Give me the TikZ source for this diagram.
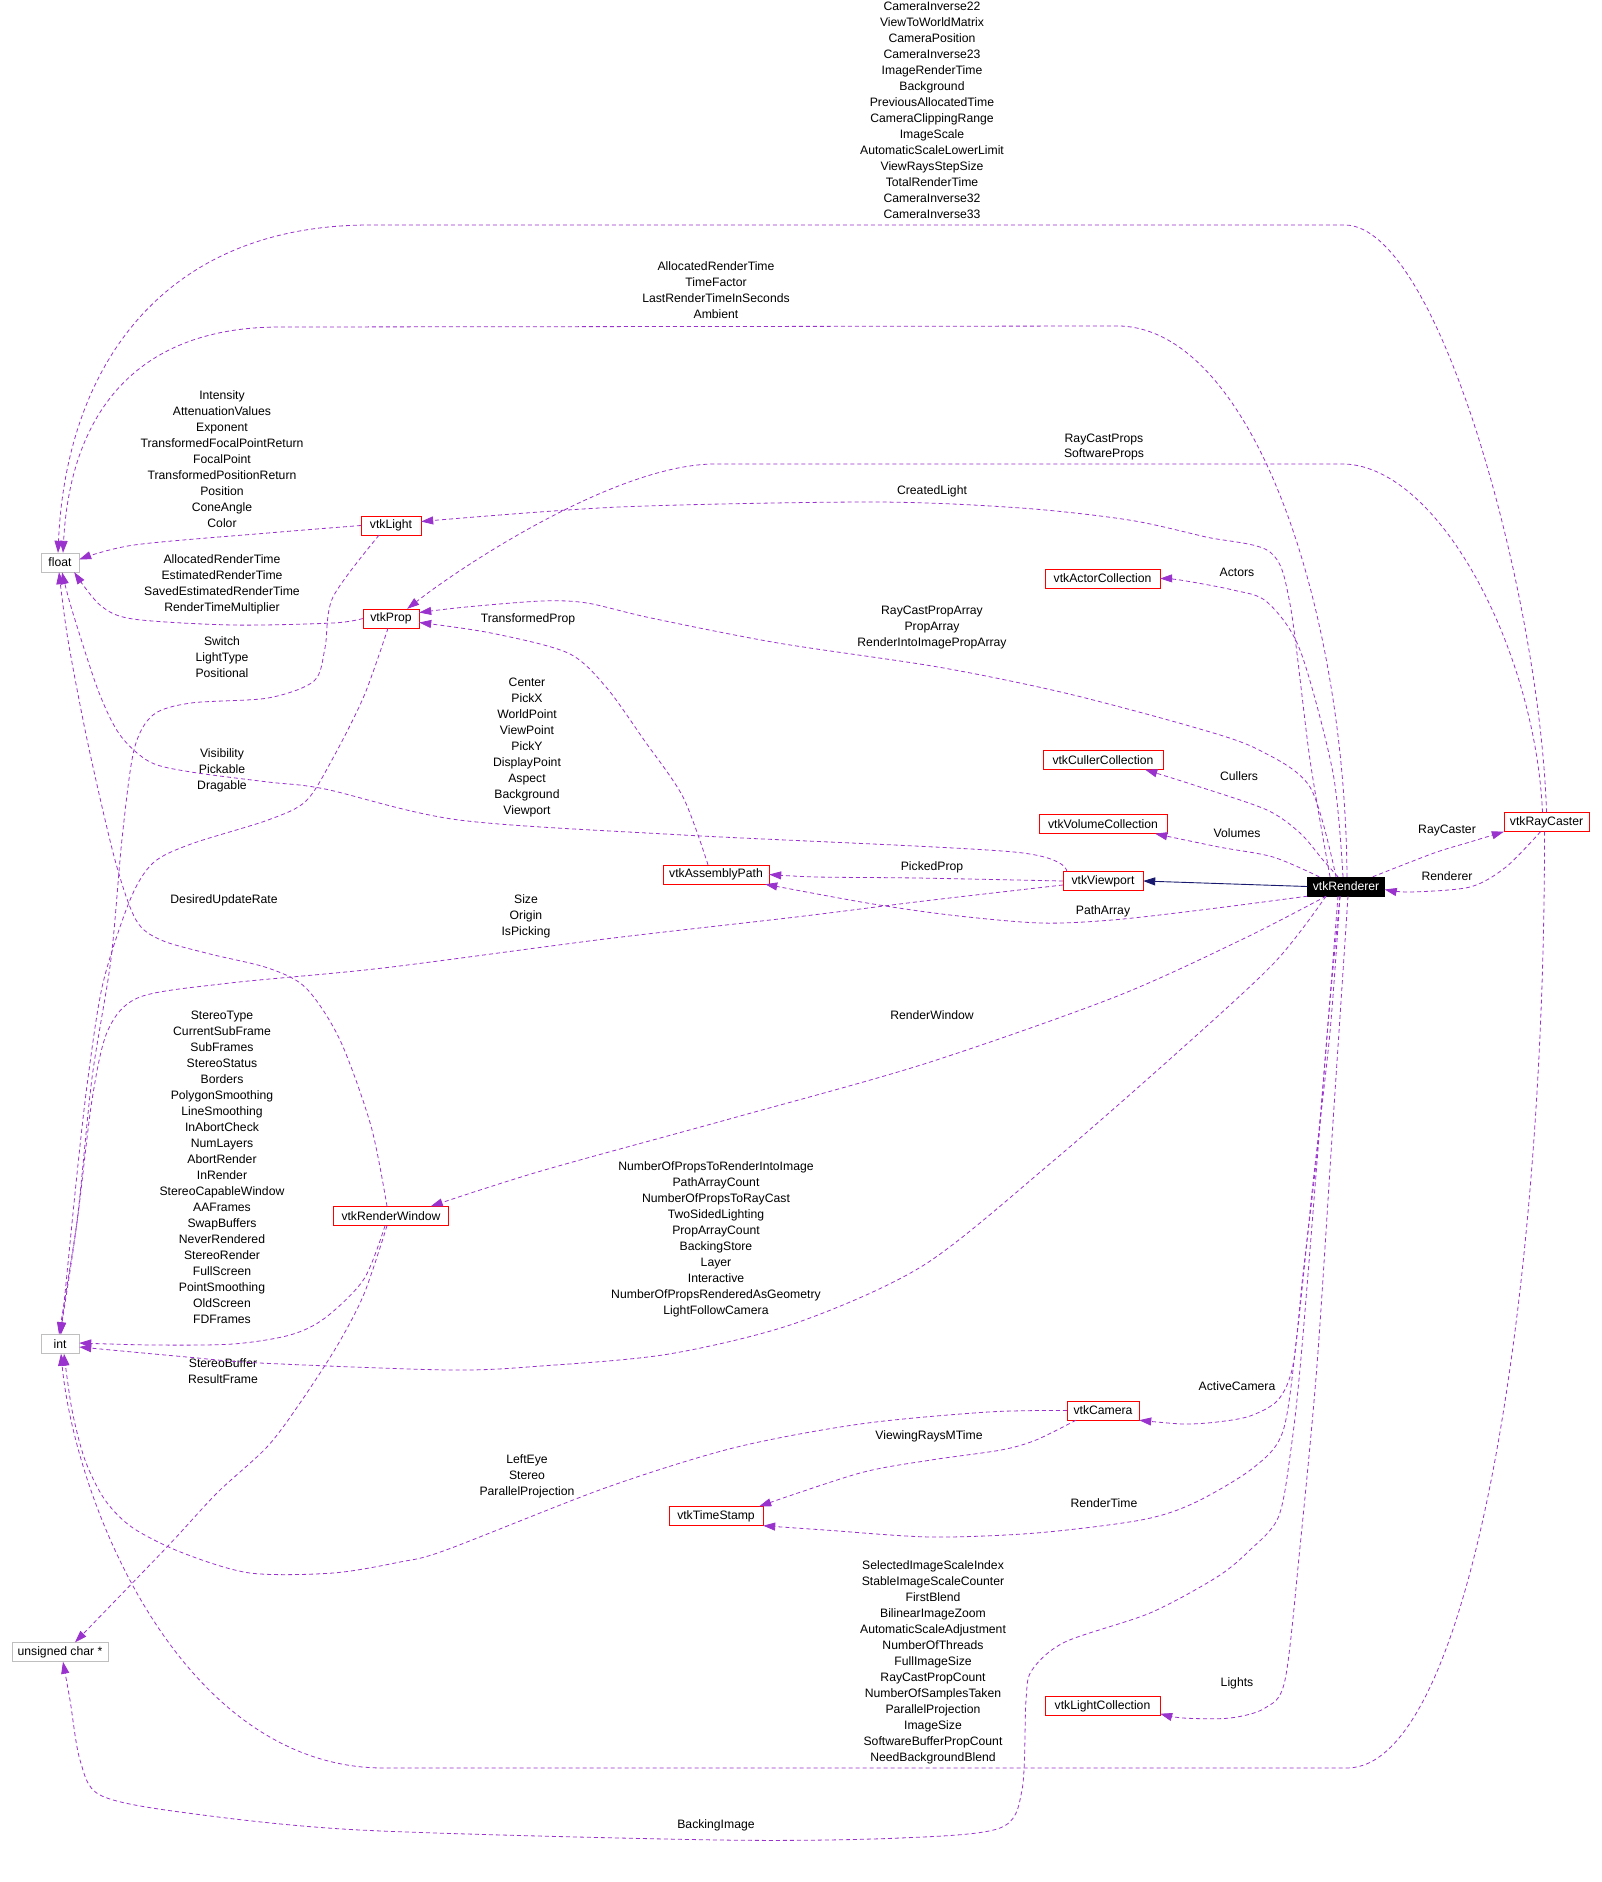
\documentclass[tikz,border=0pt]{standalone}
\usepackage{fontspec}
\setmainfont{Liberation Sans}
\usetikzlibrary{arrows.meta}
\definecolor{EdgePurple}{HTML}{9A32CD}
\definecolor{InheritBlue}{HTML}{191970}
\definecolor{BoxRed}{HTML}{FF0000}
\definecolor{BoxGrey}{HTML}{BFBFBF}

\tikzset{
  cls/.style={draw=BoxRed, fill=white, minimum height=19pt, inner sep=0pt,
    font=\fontsize{12.2}{14}\selectfont},
  builtin/.style={cls, draw=BoxGrey},
  self/.style={cls, draw=black, fill=black, text=white},
  lbl/.style={align=center, inner sep=0pt, font=\fontsize{12.2}{16}\selectfont},
  uses/.style={draw=EdgePurple, dash pattern=on 4pt off 3pt, line width=0.8pt,
    -{Triangle[length=12pt,width=8pt]}},
  inherits/.style={draw=InheritBlue, line width=0.9pt,
    -{Triangle[length=12pt,width=8pt]}},
}

\begin{document}
\begin{tikzpicture}[x=1pt,y=-1pt]
  \path[use as bounding box, fill=white] (0,0) rectangle (1602,1882);

  % classes
  \node[self, minimum width=77pt] (renderer) at (1346,886.5) {vtkRenderer};
  \node[cls, minimum width=80pt] (viewport) at (1103,881) {vtkViewport};
  \node[cls, minimum width=85pt] (raycaster) at (1546.5,822) {vtkRayCaster};
  \node[cls, minimum width=115pt] (actors) at (1102.5,578.5) {vtkActorCollection};
  \node[cls, minimum width=120pt] (cullers) at (1103,760) {vtkCullerCollection};
  \node[cls, minimum width=128pt] (volumes) at (1103,824) {vtkVolumeCollection};
  \node[cls, minimum width=106pt] (assembly) at (716,874.5) {vtkAssemblyPath};
  \node[cls, minimum width=72pt] (camera) at (1103,1410.5) {vtkCamera};
  \node[cls, minimum width=94pt] (timestamp) at (716,1516) {vtkTimeStamp};
  \node[cls, minimum width=115pt] (lightcoll) at (1102.5,1706) {vtkLightCollection};
  \node[cls, minimum width=115pt] (renwin) at (391,1216) {vtkRenderWindow};
  \node[cls, minimum width=60pt] (light) at (391,525.5) {vtkLight};
  \node[cls, minimum width=56pt] (prop) at (391,618.5) {vtkProp};
  \node[builtin, minimum width=38pt] (float) at (60,562.5) {float};
  \node[builtin, minimum width=38pt] (int) at (60,1344) {int};
  \node[builtin, minimum width=96pt] (uchar) at (60,1652) {unsigned char *};

  % member labels
  \node[lbl] (lCamInv) at (932,110.5) {CameraInverse22\\ViewToWorldMatrix\\CameraPosition\\CameraInverse23\\ImageRenderTime\\Background\\PreviousAllocatedTime\\CameraClippingRange\\ImageScale\\AutomaticScaleLowerLimit\\ViewRaysStepSize\\TotalRenderTime\\CameraInverse32\\CameraInverse33};
  \node[lbl] (lAlloc) at (716,290.5) {AllocatedRenderTime\\TimeFactor\\LastRenderTimeInSeconds\\Ambient};
  \node[lbl] (lIntens) at (222,458.7) {Intensity\\AttenuationValues\\Exponent\\TransformedFocalPointReturn\\FocalPoint\\TransformedPositionReturn\\Position\\ConeAngle\\Color};
  \node[lbl] (lPropTime) at (222,584.7) {AllocatedRenderTime\\EstimatedRenderTime\\SavedEstimatedRenderTime\\RenderTimeMultiplier};
  \node[lbl] (lSwitch) at (222,656.7) {Switch\\LightType\\Positional};
  \node[lbl] (lRcProps) at (1104,447) {RayCastProps\\SoftwareProps};
  \node[lbl] (lCreated) at (932,491.7) {CreatedLight};
  \node[lbl] (lActors) at (1237,572.7) {Actors};
  \node[lbl] (lPropArr) at (932,627.7) {RayCastPropArray\\PropArray\\RenderIntoImagePropArray};
  \node[lbl] (lTrans) at (528,619.7) {TransformedProp};
  \node[lbl] (lCenter) at (527,747.4) {Center\\PickX\\WorldPoint\\ViewPoint\\PickY\\DisplayPoint\\Aspect\\Background\\Viewport};
  \node[lbl] (lVis) at (222,770.6) {Visibility\\Pickable\\Dragable};
  \node[lbl] (lCullers) at (1239,775.7) {Cullers};
  \node[lbl] (lVolumes) at (1237,832.7) {Volumes};
  \node[lbl] (lRayCaster) at (1447,830.7) {RayCaster};
  \node[lbl] (lRenderer) at (1447,876) {Renderer};
  \node[lbl] (lPicked) at (932,867.3) {PickedProp};
  \node[lbl] (lPathArr) at (1103,911.7) {PathArray};
  \node[lbl] (lDesired) at (224,900.5) {DesiredUpdateRate};
  \node[lbl] (lSize) at (526,916.5) {Size\\Origin\\IsPicking};
  \node[lbl] (lRenWin) at (932,1015.6) {RenderWindow};
  \node[lbl] (lStereo) at (222,1167.6) {StereoType\\CurrentSubFrame\\SubFrames\\StereoStatus\\Borders\\PolygonSmoothing\\LineSmoothing\\InAbortCheck\\NumLayers\\AbortRender\\InRender\\StereoCapableWindow\\AAFrames\\SwapBuffers\\NeverRendered\\StereoRender\\FullScreen\\PointSmoothing\\OldScreen\\FDFrames};
  \node[lbl] (lNumProps) at (716,1239.8) {NumberOfPropsToRenderIntoImage\\PathArrayCount\\NumberOfPropsToRayCast\\TwoSidedLighting\\PropArrayCount\\BackingStore\\Layer\\Interactive\\NumberOfPropsRenderedAsGeometry\\LightFollowCamera};
  \node[lbl] (lStereoBuf) at (223,1370.7) {StereoBuffer\\ResultFrame};
  \node[lbl] (lActiveCam) at (1237,1386) {ActiveCamera};
  \node[lbl] (lViewRays) at (929,1436.7) {ViewingRaysMTime};
  \node[lbl] (lRenTime) at (1104,1502.7) {RenderTime};
  \node[lbl] (lLeftEye) at (527,1476.8) {LeftEye\\Stereo\\ParallelProjection};
  \node[lbl] (lSelImg) at (933,1662) {SelectedImageScaleIndex\\StableImageScaleCounter\\FirstBlend\\BilinearImageZoom\\AutomaticScaleAdjustment\\NumberOfThreads\\FullImageSize\\RayCastPropCount\\NumberOfSamplesTaken\\ParallelProjection\\ImageSize\\SoftwareBufferPropCount\\NeedBackgroundBlend};
  \node[lbl] (lLights) at (1237,1683) {Lights};
  \node[lbl] (lBacking) at (716,1825) {BackingImage};

  % inheritance
  \draw[inherits] (renderer.west) -- (viewport.east);

  % usage relations
  \draw[uses] (raycaster.north) .. controls (1540,600) and (1440,226) .. (1345,225)
    -- (370,225) .. controls (160,225) and (66,370) .. ([xshift=-2pt]float.north);
  \draw[uses] ([xshift=1pt]renderer.north) .. controls (1345,600) and (1250,330) .. (1120,326)
    -- (280,327) .. controls (130,327) and (70,420) .. ([xshift=3pt]float.north);
  \draw[uses] plot[smooth] coordinates {(light.west) (268,533) (134,545) ([yshift=3pt]float.east)};
  \draw[uses] plot[smooth] coordinates {(prop.west) (333,623) (233,625) (133,619) (100,605)
    ([xshift=-5pt]float.south east)};
  \draw[uses] plot[smooth] coordinates {([xshift=-12pt]light.south) (333,597) (325,648) (314,681)
    (268,698) (191,703) (153,715) (134,750) (122,839) (111,959) (92,1078) (77,1222) (int.north)};
  \draw[uses] plot[smooth] coordinates {([xshift=-3pt]prop.south) (364,696) (333,758) (306,801)
    (268,820) (191,844) (153,863) (130,900) (103,983) (88,1078) (77,1174) ([xshift=1pt]int.north)};
  \draw[uses] ([xshift=-4pt]raycaster.north) .. controls (1535,650) and (1440,468) .. (1345,464)
    -- (715,464) .. controls (620,464) and (470,560) .. ([xshift=-12pt]prop.north east);
  \draw[uses] plot[smooth] coordinates {([xshift=-16pt]renderer.north) (1310,760) (1290,604)
    (1270,552) (1206,537) (1129,520) (1021,508) (874,502) (619,507) ([yshift=4pt]light.east)};
  \draw[uses] plot[smooth] coordinates {([xshift=-3pt]renderer.north) (1333,773) (1300,650)
    (1267,602) (1233,590) (1180,580) (actors.east)};
  \draw[uses] plot[smooth] coordinates {([xshift=-10pt]renderer.north) (1310,787) (1257,749)
    (1193,727) (1065,693) (938,667) (778,643) (651,618) (587,603) (542,601) (466,607) ([yshift=6pt]prop.east)};
  \draw[uses] plot[smooth] coordinates {([xshift=-8pt]assembly.north) (683,797) (644,740)
    (606,687) (568,653) (491,633) ([yshift=-4pt]prop.east)};
  \draw[uses] plot[smooth] coordinates {([xshift=4pt]viewport.north west) (1014,852) (683,835)
    (459,820) (325,789) (268,782) (191,772) (150,762) (120,735) (98,690) (72,610) ([xshift=2pt]float.south)};
  \draw[uses] plot[smooth] coordinates {([xshift=-8pt]renderer.north) (1323,860) (1300,833)
    (1267,810) (1200,787) ([xshift=-18pt]cullers.south east)};
  \draw[uses] plot[smooth] coordinates {([xshift=12pt]renderer.north west) (1273,857) (1219,847)
    ([xshift=-12pt]volumes.south east)};
  \draw[uses] plot[smooth] coordinates {([xshift=-12pt]renderer.north east) (1434,853) (1470,842)
    (raycaster.south west)};
  \draw[uses] plot[smooth] coordinates {([xshift=-6pt]raycaster.south) (1506,867) (1470,887)
    (1410,892) ([yshift=-3pt]renderer.east)};
  \draw[uses] plot[smooth] coordinates {(viewport.west) (917,878) (817,877) (assembly.east)};
  \draw[uses] plot[smooth] coordinates {(renderer.south west) (1201,910) (1112,920) (1040,923)
    (950,915) (867,903) ([xshift=-4pt]assembly.south east)};
  \draw[uses] plot[smooth] coordinates {([xshift=-4pt]renwin.north) (371,1126) (340,1040)
    (306,988) (268,968) (210,954) (161,940) (136,920) (115,860) (88,744) (68,640) ([xshift=-1pt]float.south)};
  \draw[uses] plot[smooth] coordinates {([yshift=-4pt]viewport.west) (924,901) (796,917) (605,939)
    (383,968) (230,983) (140,997) (108,1030) (92,1100) (77,1222) ([xshift=-1pt]int.north)};
  \draw[uses] plot[smooth] coordinates {([xshift=-20pt]renderer.south) (1243,939) (1115,997)
    (924,1064) (733,1118) (541,1171) ([xshift=-18pt]renwin.north east)};
  \draw[uses] plot[smooth] coordinates {([xshift=-6pt]renwin.south) (364,1279) (325,1318)
    (290,1335) (233,1344) (153,1345) ([yshift=1pt]int.east)};
  \draw[uses] plot[smooth] coordinates {([xshift=-20pt]renderer.south) (1275,962) (1179,1051)
    (1052,1162) (924,1265) (796,1323) (669,1354) (541,1366) (450,1370) (260,1363) (187,1357)
    ([yshift=-3pt]int.east)};
  \draw[uses] plot[smooth] coordinates {([xshift=-4pt]renwin.south) (364,1294) (337,1346)
    (300,1403) (267,1447) (217,1493) (167,1547) ([xshift=15pt]uchar.north)};
  \draw[uses] plot[smooth] coordinates {([xshift=-6pt]renderer.south) (1330,1001) (1317,1153)
    (1303,1274) (1293,1365) (1278,1400) (1250,1416) (1217,1422) (1183,1424) (camera.south east)};
  \draw[uses] plot[smooth] coordinates {([xshift=-27pt]camera.south) (1036,1440) (1001,1450)
    (931,1460) (860,1473) ([xshift=-4pt]timestamp.north east)};
  \draw[uses] plot[smooth] coordinates {([xshift=-6pt]renderer.south) (1330,1032) (1313,1183)
    (1297,1335) (1283,1431) (1253,1468) (1194,1503) (1141,1520) (1036,1533) (931,1537) (825,1530)
    (timestamp.south east)};
  \draw[uses] plot[smooth] coordinates {(camera.west) (988,1412) (860,1424) (733,1448) (605,1488)
    (446,1550) (400,1562) (333,1573) (250,1573) (183,1553) (133,1528) (105,1500) (85,1460)
    (72,1410) ([xshift=4pt]int.south)};
  \draw[uses] ([xshift=-2pt]raycaster.south) .. controls (1545,1300) and (1470,1768) .. (1347,1768)
    -- (384,1768) .. controls (180,1768) and (75,1500) .. ([xshift=1pt]int.south);
  \draw[uses] plot[smooth] coordinates {([xshift=2pt]renderer.south) (1333,1122) (1317,1365)
    (1300,1547) (1285,1680) (1265,1708) (1230,1718) (1183,1718) ([yshift=2pt]lightcoll.south east)};
  \draw[uses] plot[smooth] coordinates {([xshift=-8pt]renderer.south) (1303,1335) (1290,1456)
    (1278,1518) (1250,1550) (1217,1577) (1150,1613) (1065,1642) (1032,1670) (1026,1700)
    (1022,1790) (1000,1828) (900,1838) (720,1840) (360,1830) (180,1812) (100,1795) (80,1760)
    (70,1700) ([xshift=3pt]uchar.south)};
\end{tikzpicture}
\end{document}
